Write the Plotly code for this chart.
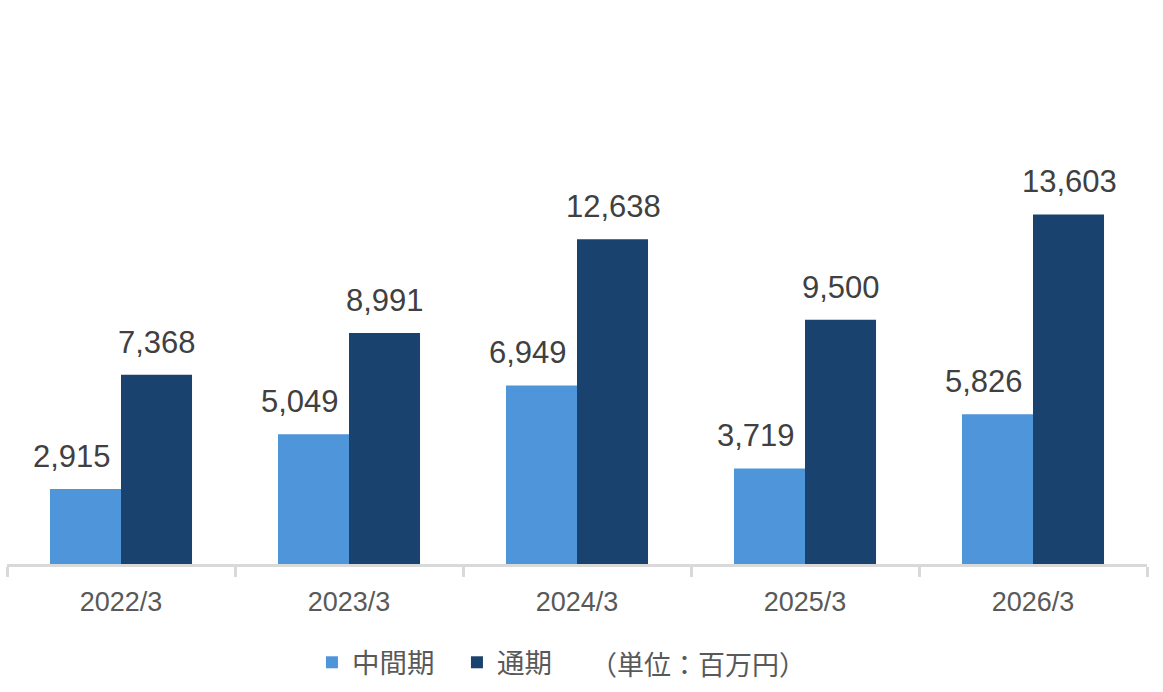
import plotly.graph_objects as go

categories = ["2022/3", "2023/3", "2024/3", "2025/3", "2026/3"]
interim = [2915, 5049, 6949, 3719, 5826]
full_year = [7368, 8991, 12638, 9500, 13603]
series_names = ["中間期", "通期"]
unit_note = "（単位：百万円）"

c_light = "#4f95d9"
c_dark = "#1a426e"
label_font = dict(family="Liberation Sans, Arial, sans-serif", size=31, color="#404040")
legend_font = dict(family="Noto Sans CJK JP", size=27.5, color="#595959")
unit_font = dict(family="Noto Sans CJK JP", size=27, color="#595959")

fig = go.Figure()
fig.add_trace(go.Bar(x=categories, y=interim, name=series_names[0], marker_color=c_light,
                     marker_line_width=0))
fig.add_trace(go.Bar(x=categories, y=full_year, name=series_names[1], marker_color=c_dark,
                     marker_line_width=0))

for vals, shift in [(interim, -49), (full_year, 36)]:
    for c, v in zip(categories, vals):
        fig.add_annotation(x=c, y=v, text=f"{v:,}", showarrow=False, xref="x", yref="y",
                           xshift=shift, yshift=13, yanchor="bottom", font=label_font)

fig.add_annotation(text=unit_note, x=(697.5 - 7) / 1140, y=-(664 - 564.5) / 514.5,
                   xref="paper", yref="paper", xanchor="center", yanchor="middle",
                   showarrow=False, font=unit_font)

fig.update_layout(
    width=1163, height=692,
    margin=dict(l=7, r=16, t=50, b=127.5, autoexpand=False),
    paper_bgcolor="white", plot_bgcolor="white",
    barmode="group", bargap=0.377, bargroupgap=0,
    showlegend=True,
    legend=dict(orientation="h", x=0.2675, y=-(663 - 564.5) / 514.5, xanchor="left", yanchor="middle",
                font=legend_font, itemwidth=30, entrywidth=100, traceorder="normal"),
    xaxis=dict(showline=True, linecolor="#d9d9d9", linewidth=3, ticks="outside",
               tickson="boundaries", ticklen=10, tickcolor="#d9d9d9", tickwidth=2.5,
               ticklabelstandoff=12, automargin=False,
               tickfont=dict(family="Liberation Sans, Arial, sans-serif", size=27, color="#595959"),
               showgrid=False),
    yaxis=dict(range=[0, 20000], visible=False, showgrid=False),
)

fig.write_html("out.html")
